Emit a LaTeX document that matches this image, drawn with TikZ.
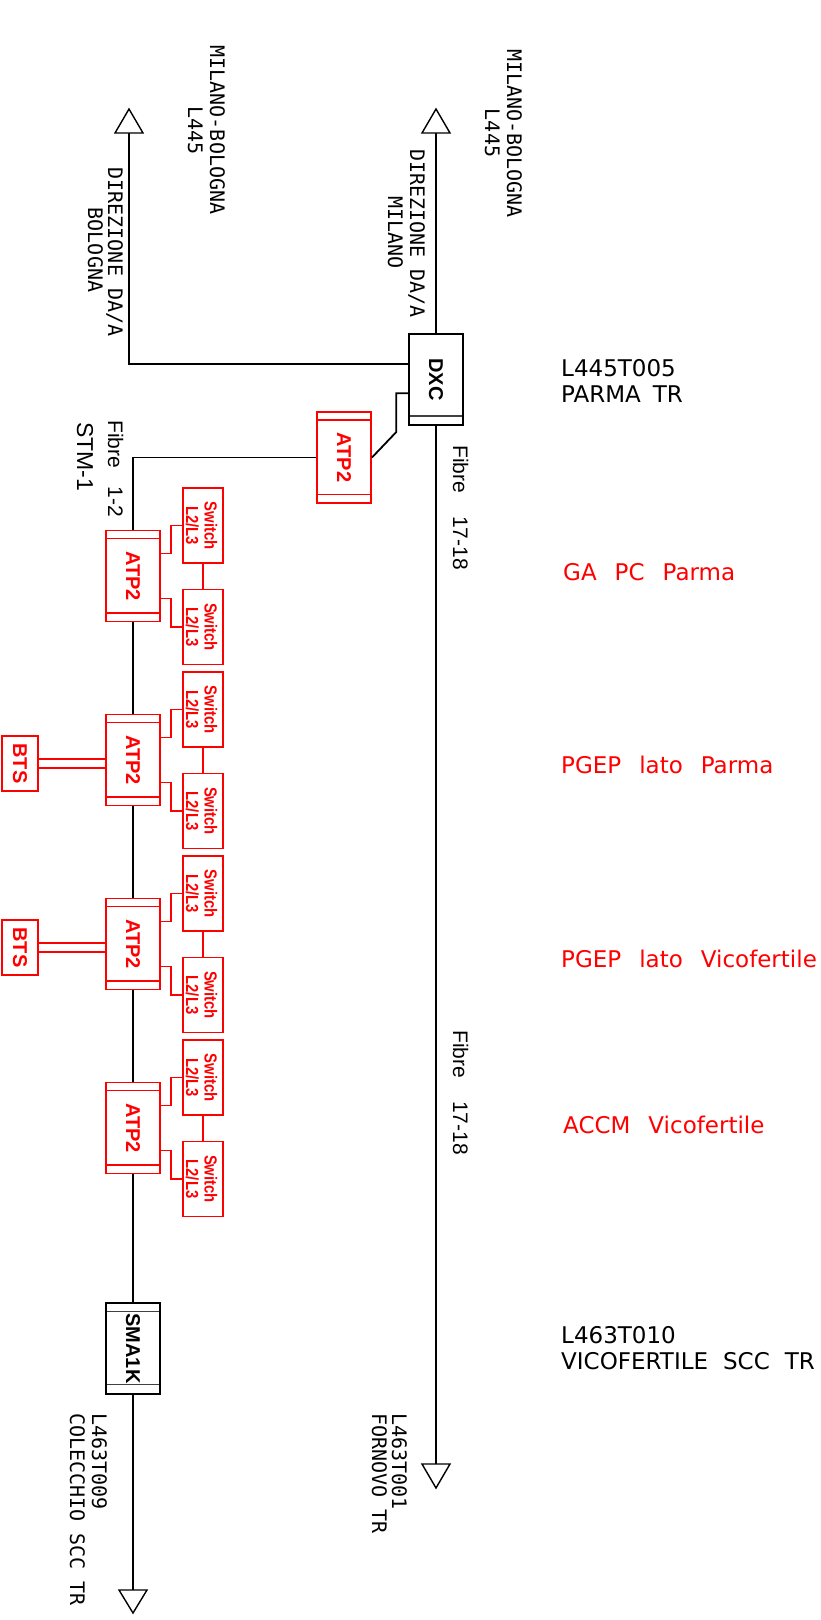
\documentclass[tikz,border=0pt]{standalone}
\usepackage{fontspec}
\usetikzlibrary{calc}
\newfontfamily\cadmono{DejaVu Sans Mono}
\newfontfamily\lblsans{DejaVu Sans}
\newfontfamily\arialf{Liberation Sans}
\newfontfamily\swfont[FakeStretch=0.85]{Liberation Sans}
\definecolor{cadred}{RGB}{255,0,0}
\newcommand\gapA{\hspace{18pt}}
\newcommand\gapB{\hspace{15pt}}
\begin{document}
\begin{tikzpicture}[x=1pt,y=-1pt,
  ln/.style={draw=black, line width=1.8pt},
  tri/.style={draw=black, line width=1.4pt, fill=white, line join=miter},
  rln/.style={draw=cadred, line width=1.6pt},
  thinr/.style={draw=cadred, line width=1.2pt},
  boxgeom/.style={rectangle, inner sep=0pt, minimum width=54pt, minimum height=91pt},
  atpbox/.style={boxgeom, draw=cadred, line width=1.9pt,
    path picture={
      \draw[cadred, line width=1.5pt]
        ([yshift=-8pt]path picture bounding box.north west) -- ([yshift=-8pt]path picture bounding box.north east);
      \draw[cadred, line width=1.5pt]
        ([yshift=8.5pt]path picture bounding box.south west) -- ([yshift=8.5pt]path picture bounding box.south east);
    }},
  dxcbox/.style={boxgeom, draw=black, line width=1.7pt,
    path picture={
      \draw[black!75, line width=1.4pt]
        ([yshift=9pt]path picture bounding box.south west) -- ([yshift=9pt]path picture bounding box.south east);
    }},
  smabox/.style={boxgeom, draw=black, line width=1.7pt,
    path picture={
      \draw[black!75, line width=1.4pt]
        ([yshift=-8.5pt]path picture bounding box.north west) -- ([yshift=-8.5pt]path picture bounding box.north east);
      \draw[black!75, line width=1.4pt]
        ([yshift=9.5pt]path picture bounding box.south west) -- ([yshift=9.5pt]path picture bounding box.south east);
    }},
  swbox/.style={rectangle, inner sep=0pt, minimum width=40pt, minimum height=75pt, draw=cadred, line width=1.5pt},
  btsbox/.style={rectangle, inner sep=0pt, minimum width=36pt, minimum height=55pt, draw=cadred, line width=1.6pt},
  boxlbl/.style={rotate=-90, inner sep=0pt, font=\arialf\bfseries\fontsize{20}{22}\selectfont},
  swlbl/.style={rotate=-90, inner sep=0pt, align=center, text=cadred, font=\swfont\bfseries\fontsize{17.5}{18.5}\selectfont},
  mono/.style={rotate=-90, inner sep=0pt, font=\cadmono\fontsize{20}{22}\selectfont},
  fibre/.style={rotate=-90, inner sep=0pt, anchor=base west, font=\arialf\fontsize{21}{22}\selectfont},
  site/.style={inner sep=0pt, anchor=base west, font=\lblsans\fontsize{23}{26}\selectfont},
  redsite/.style={inner sep=0pt, anchor=base west, text=cadred, font=\lblsans\fontsize{23}{26}\selectfont}
]
\fill[white] (0,0) rectangle (821,1620);
\useasboundingbox (0,0) rectangle (821,1620);

% ---- arrows (line ends)
\coordinate (tl) at (129,133);
\coordinate (tr) at (436,133);
\coordinate (bl) at (133,1590);
\coordinate (br) at (436,1464);

% ---- main boxes
\node[dxcbox] (dxc) at (436,379.5) {};
\node[boxlbl] (dxct) at (dxc) {DXC};
\node[atpbox] (a0) at (344,457.5) {};
\node[boxlbl, text=cadred] (a0t) at (a0) {ATP2};
\node[smabox] (sma) at (133,1348.5) {};
\node[boxlbl] (smat) at (sma) {SMA1K};

% ---- groups
\foreach \k in {0,1,2,3} {
  \pgfmathsetmacro{\ya}{576+184*\k}
  \pgfmathsetmacro{\ysa}{525.5+184*\k}
  \pgfmathsetmacro{\ysb}{627+184*\k}
  \node[atpbox] (g\k) at (133,\ya) {};
  \node[boxlbl, text=cadred] (gt\k) at (g\k) {ATP2};
  \node[swbox] (sa\k) at (203,\ysa) {};
  \node[swlbl] (sat\k) at ([xshift=-1.5pt]sa\k.center) {Switch\\L2/L3};
  \node[swbox] (sb\k) at (203,\ysb) {};
  \node[swlbl] (sbt\k) at ([xshift=-1.5pt]sb\k.center) {Switch\\L2/L3};
  \draw[rln] (sa\k.south) -- (sb\k.north);
  \draw[rln] ($(g\k.north east)+(0,24)$) -- ++(10,0) |- (sa\k.west);
  \draw[rln] ($(g\k.south east)+(0,-24)$) -- ++(10,0) |- (sb\k.west);
}

% ---- BTS
\foreach \k in {1,2} {
  \pgfmathsetmacro{\yb}{763.5+184*(\k-1)}
  \node[btsbox] (bts\k) at (20,\yb) {};
  \node[boxlbl, text=cadred] (btst\k) at (bts\k) {BTS};
  \coordinate (bu\k) at ([yshift=4.5pt]bts\k.east);
  \coordinate (bd\k) at ([yshift=-4.5pt]bts\k.east);
  \draw[thinr] (bu\k) -- (bu\k -| g\k.west);
  \draw[thinr] (bd\k) -- (bd\k -| g\k.west);
}

% ---- black connectors
\draw[ln] (tl) |- ($(dxc.north west)+(0,31)$);
\draw[ln] (tr) -- (dxc.north);
\draw[ln] (dxc.south) -- (br);
\draw[ln] ($(dxc.north west)+(0,60)$) -- ++(-12,0) -- ++(0,39) -- (a0.east);
\draw[ln] (a0.west) -| (g0.north);
\draw[ln] (g0.south) -- (g1.north);
\draw[ln] (g1.south) -- (g2.north);
\draw[ln] (g2.south) -- (g3.north);
\draw[ln] (g3.south) -- (sma.north);
\draw[ln] (sma.south) -- (bl);

% ---- arrow heads
\draw[tri] (tl) -- ++(-14,0) -- ++(14,-24) -- ++(14,24) -- cycle;
\draw[tri] (tr) -- ++(-14,0) -- ++(14,-24) -- ++(14,24) -- cycle;
\draw[tri] (bl) -- ++(-14,0) -- ++(14,23) -- ++(14,-23) -- cycle;
\draw[tri] (br) -- ++(-14,0) -- ++(14,24) -- ++(14,-24) -- cycle;

% ---- rotated texts
\node[mono, anchor=base] (lmb) at (210,130) {MILANO-BOLOGNA};
\node[mono, anchor=base] (ll445) at (188,130.5) {L445};
\node[mono, anchor=base] (ldir) at (108,252) {DIREZIONE DA/A};
\node[mono, anchor=base] (lbol) at (88,250) {BOLOGNA};
\node[mono, anchor=base] (rmb) at (507,133.5) {MILANO-BOLOGNA};
\node[mono, anchor=base] (rl445) at (485,133) {L445};
\node[mono, anchor=base] (rdir) at (410,233.5) {DIREZIONE DA/A};
\node[mono, anchor=base] (rmil) at (388,232.5) {MILANO};
\node[mono, anchor=base west] (l9) at (92,1413) {L463T009};
\node[mono, anchor=base west] (lcol) at (70,1413) {COLECCHIO SCC TR};
\node[mono, anchor=base west] (l1) at (392,1413) {L463T001};
\node[mono, anchor=base west] (lforn) at (372,1413) {FORNOVO TR};
\node[fibre] (f12) at (108,420) {Fibre\hspace{0.9em}1-2};
\node[fibre, font=\arialf\fontsize{23}{24}\selectfont] (stm) at (77,422) {STM-1};
\node[fibre] (f17a) at (453,445) {Fibre\hspace{1.1em}17-18};
\node[fibre] (f17b) at (453,1030) {Fibre\hspace{1.1em}17-18};

% ---- site labels
\node[site] (p1) at (561,376) {L445T005};
\node[site] (p2) at (561,402) {PARMA\hspace{12pt}TR};
\node[site] (v1) at (561,1343) {L463T010};
\node[site] (v2) at (561,1369) {VICOFERTILE\gapB SCC\gapB TR};
\node[redsite] (r1) at (563,580) {GA\gapA PC\gapA Parma};
\node[redsite] (r2) at (561,773) {PGEP\gapA lato\gapA Parma};
\node[redsite] (r3) at (561,967) {PGEP\gapA lato\gapA Vicofertile};
\node[redsite] (r4) at (563,1133) {ACCM\gapA Vicofertile};
\end{tikzpicture}
\end{document}
